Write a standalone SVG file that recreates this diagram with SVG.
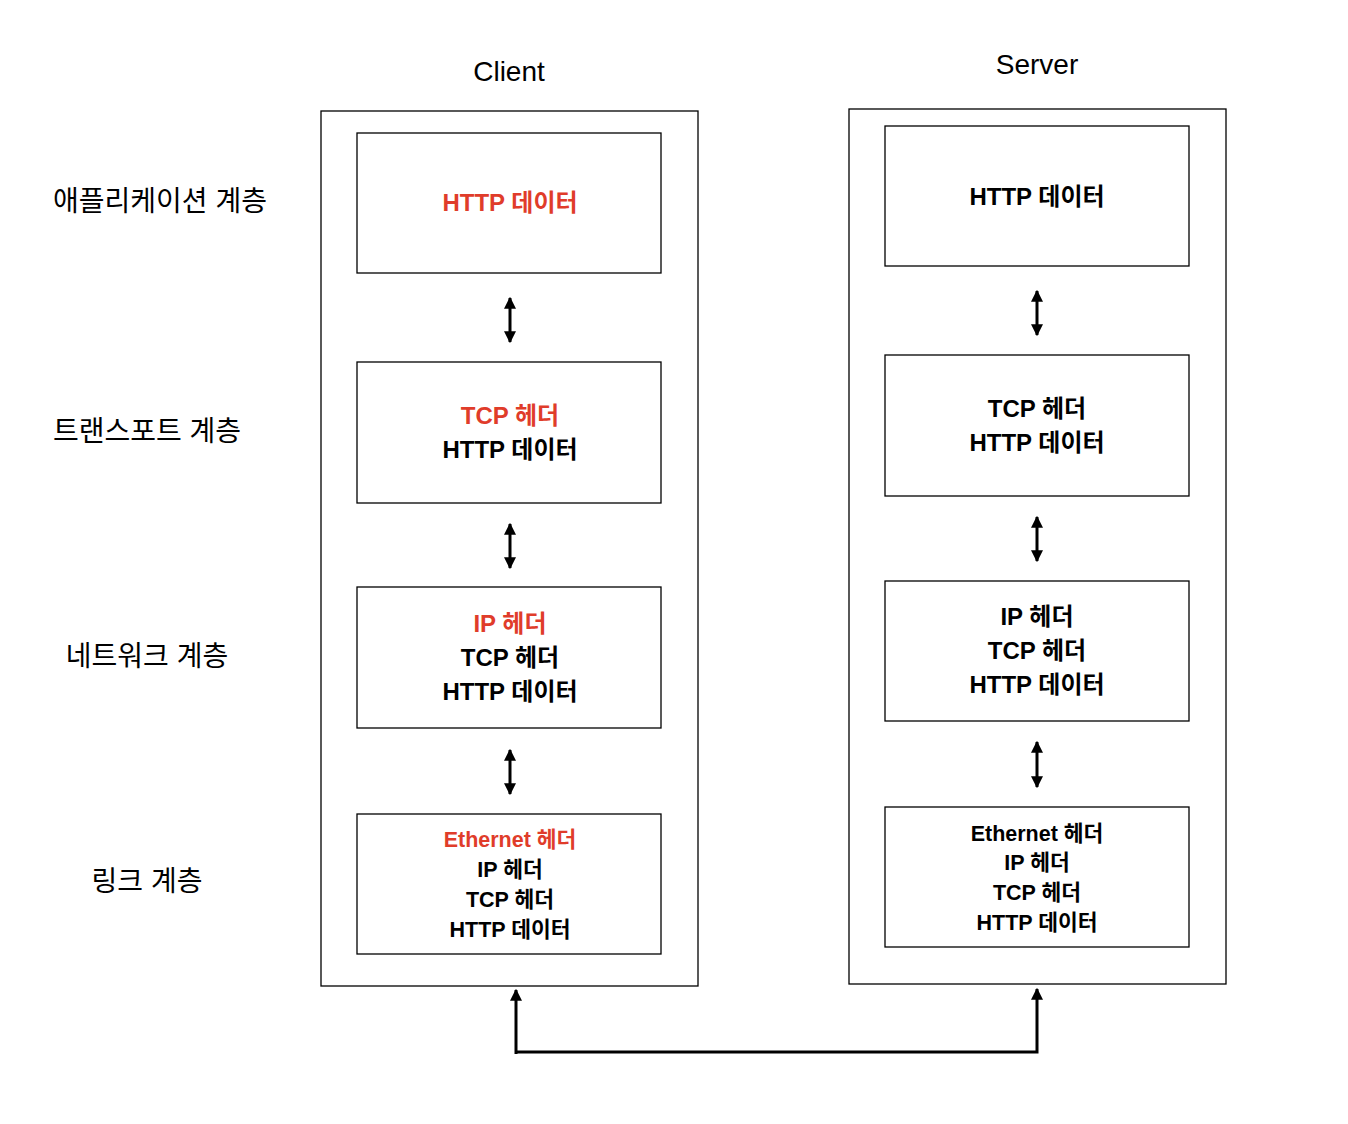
<svg xmlns="http://www.w3.org/2000/svg" width="1348" height="1124" viewBox="0 0 1348 1124">
<defs>
<style>
.box{fill:#fff;stroke:#000;stroke-width:1.3}
.t{font-family:"Liberation Sans","Noto Sans CJK KR",sans-serif;font-weight:bold;font-size:24px;text-anchor:middle;fill:#000}
.s{font-size:21.5px}
.r{fill:#E03C2A}
.lbl{font-family:"Liberation Sans","Noto Sans CJK KR",sans-serif;font-size:28px;text-anchor:middle;fill:#000}
.c{stroke:#000;stroke-width:3;fill:none}
</style>
<marker id="ah" viewBox="0 0 10 10" refX="9" refY="5" markerWidth="4" markerHeight="4.2" orient="auto-start-reverse" markerUnits="strokeWidth"><path d="M0,0 L10,5 L0,10 z" fill="#000"/></marker>
</defs>
<rect width="1348" height="1124" fill="#fff"/>
<g id="labels">
<text class="lbl" x="509" y="81">Client</text>
<text class="lbl" x="1037" y="74">Server</text>
<text class="lbl" x="160" y="211">애플리케이션 계층</text>
<text class="lbl" x="147" y="441">트랜스포트 계층</text>
<text class="lbl" x="147" y="666">네트워크 계층</text>
<text class="lbl" x="147" y="891">링크 계층</text>
</g>
<g id="client"><rect class="box" x="321" y="111" width="377" height="875"/></g>
<g id="server"><rect class="box" x="849" y="109" width="377" height="875"/></g>
<g id="c-app"><rect class="box" x="357" y="133" width="304" height="140"/>
<text class="t r" x="510" y="211">HTTP 데이터</text></g>
<g id="c-trans"><rect class="box" x="357" y="362" width="304" height="141"/>
<text class="t r" x="510" y="424">TCP 헤더</text>
<text class="t" x="510" y="458">HTTP 데이터</text></g>
<g id="c-net"><rect class="box" x="357" y="587" width="304" height="141"/>
<text class="t r" x="510" y="632">IP 헤더</text>
<text class="t" x="510" y="666">TCP 헤더</text>
<text class="t" x="510" y="700">HTTP 데이터</text></g>
<g id="c-link"><rect class="box" x="357" y="814" width="304" height="140"/>
<text class="t s r" x="510" y="847">Ethernet 헤더</text>
<text class="t s" x="510" y="877">IP 헤더</text>
<text class="t s" x="510" y="907">TCP 헤더</text>
<text class="t s" x="510" y="937">HTTP 데이터</text></g>
<g id="s-app"><rect class="box" x="885" y="126" width="304" height="140"/>
<text class="t" x="1037" y="205">HTTP 데이터</text></g>
<g id="s-trans"><rect class="box" x="885" y="355" width="304" height="141"/>
<text class="t" x="1037" y="417">TCP 헤더</text>
<text class="t" x="1037" y="451">HTTP 데이터</text></g>
<g id="s-net"><rect class="box" x="885" y="581" width="304" height="140"/>
<text class="t" x="1037" y="625">IP 헤더</text>
<text class="t" x="1037" y="659">TCP 헤더</text>
<text class="t" x="1037" y="693">HTTP 데이터</text></g>
<g id="s-link"><rect class="box" x="885" y="807" width="304" height="140"/>
<text class="t s" x="1037" y="841">Ethernet 헤더</text>
<text class="t s" x="1037" y="870">IP 헤더</text>
<text class="t s" x="1037" y="900">TCP 헤더</text>
<text class="t s" x="1037" y="930">HTTP 데이터</text></g>
<g id="connectors">
<line class="c" x1="510" y1="298" x2="510" y2="342" marker-start="url(#ah)" marker-end="url(#ah)"/>
<line class="c" x1="510" y1="524" x2="510" y2="568" marker-start="url(#ah)" marker-end="url(#ah)"/>
<line class="c" x1="510" y1="750" x2="510" y2="794" marker-start="url(#ah)" marker-end="url(#ah)"/>
<line class="c" x1="1037" y1="291" x2="1037" y2="335" marker-start="url(#ah)" marker-end="url(#ah)"/>
<line class="c" x1="1037" y1="517" x2="1037" y2="561" marker-start="url(#ah)" marker-end="url(#ah)"/>
<line class="c" x1="1037" y1="742" x2="1037" y2="787" marker-start="url(#ah)" marker-end="url(#ah)"/>
<path class="c" d="M516,1052 L1037,1052 L1037,989" marker-end="url(#ah)"/>
<path class="c" d="M516,1054 L516,990" marker-end="url(#ah)"/>
</g>
</svg>
